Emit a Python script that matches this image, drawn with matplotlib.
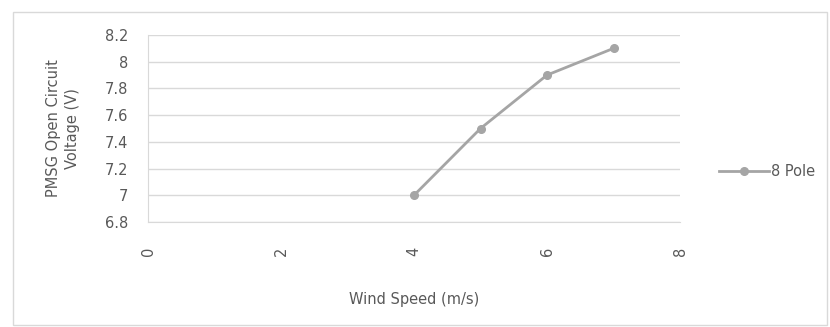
import matplotlib
matplotlib.use("Agg")
import matplotlib.pyplot as plt
from matplotlib.patches import Rectangle

wind_speed = [4, 5, 6, 7]
voltage_8pole = [7.0, 7.5, 7.9, 8.1]
series_label = "8 Pole"
x_ticks = [0, 2, 4, 6, 8]
y_ticks = [6.8, 7.0, 7.2, 7.4, 7.6, 7.8, 8.0, 8.2]
y_tick_labels = ["6.8", "7", "7.2", "7.4", "7.6", "7.8", "8", "8.2"]

plt.rcParams['font.family'] = ['DejaVu Sans']
txt = '#595959'
grid_c = '#D9D9D9'
series_c = '#A5A5A5'
fs = 10.5

fig = plt.figure(figsize=(8.3, 3.27), dpi=100)
fig.patches.append(Rectangle((13/830, 1-325/327), 814/830, 313/327, transform=fig.transFigure,
                             fill=False, edgecolor='#D9D9D9', linewidth=1))
ax = fig.add_axes([148/830, 1-222/327, (680-148)/830, (222-35)/327])

line, = ax.plot(wind_speed, voltage_8pole, color=series_c, linewidth=2, marker='o',
                markersize=5.5, markerfacecolor=series_c, markeredgecolor=series_c, label=series_label)

ax.set_xlim(0, 8)
ax.set_ylim(6.8, 8.2)
ax.set_xticks(x_ticks)
ax.set_xticklabels([str(v) for v in x_ticks], rotation=90)
ax.set_yticks(y_ticks)
ax.set_yticklabels(y_tick_labels)
ax.yaxis.grid(True, color=grid_c, linewidth=1)
ax.set_axisbelow(True)
for s in ['top', 'right']:
    ax.spines[s].set_visible(False)
ax.spines['left'].set_color(grid_c)
ax.spines['bottom'].set_color(grid_c)
ax.tick_params(axis='both', length=0, colors=txt, labelsize=fs)
ax.tick_params(axis='x', pad=18)
ax.tick_params(axis='y', pad=14)

ax.set_xlabel("Wind Speed (m/s)", color=txt, fontsize=fs, labelpad=26)
ax.set_ylabel("PMSG Open Circuit\nVoltage (V)", color=txt, fontsize=fs, labelpad=18,
              linespacing=1.3)

fig.legend(handles=[line], labels=[series_label], loc='center left',
           bbox_to_anchor=(712/830, 1-172/327), frameon=False, fontsize=fs,
           labelcolor=txt, handlelength=3.4, handletextpad=0.15, borderpad=0)

fig.savefig("out.png", dpi=100)
